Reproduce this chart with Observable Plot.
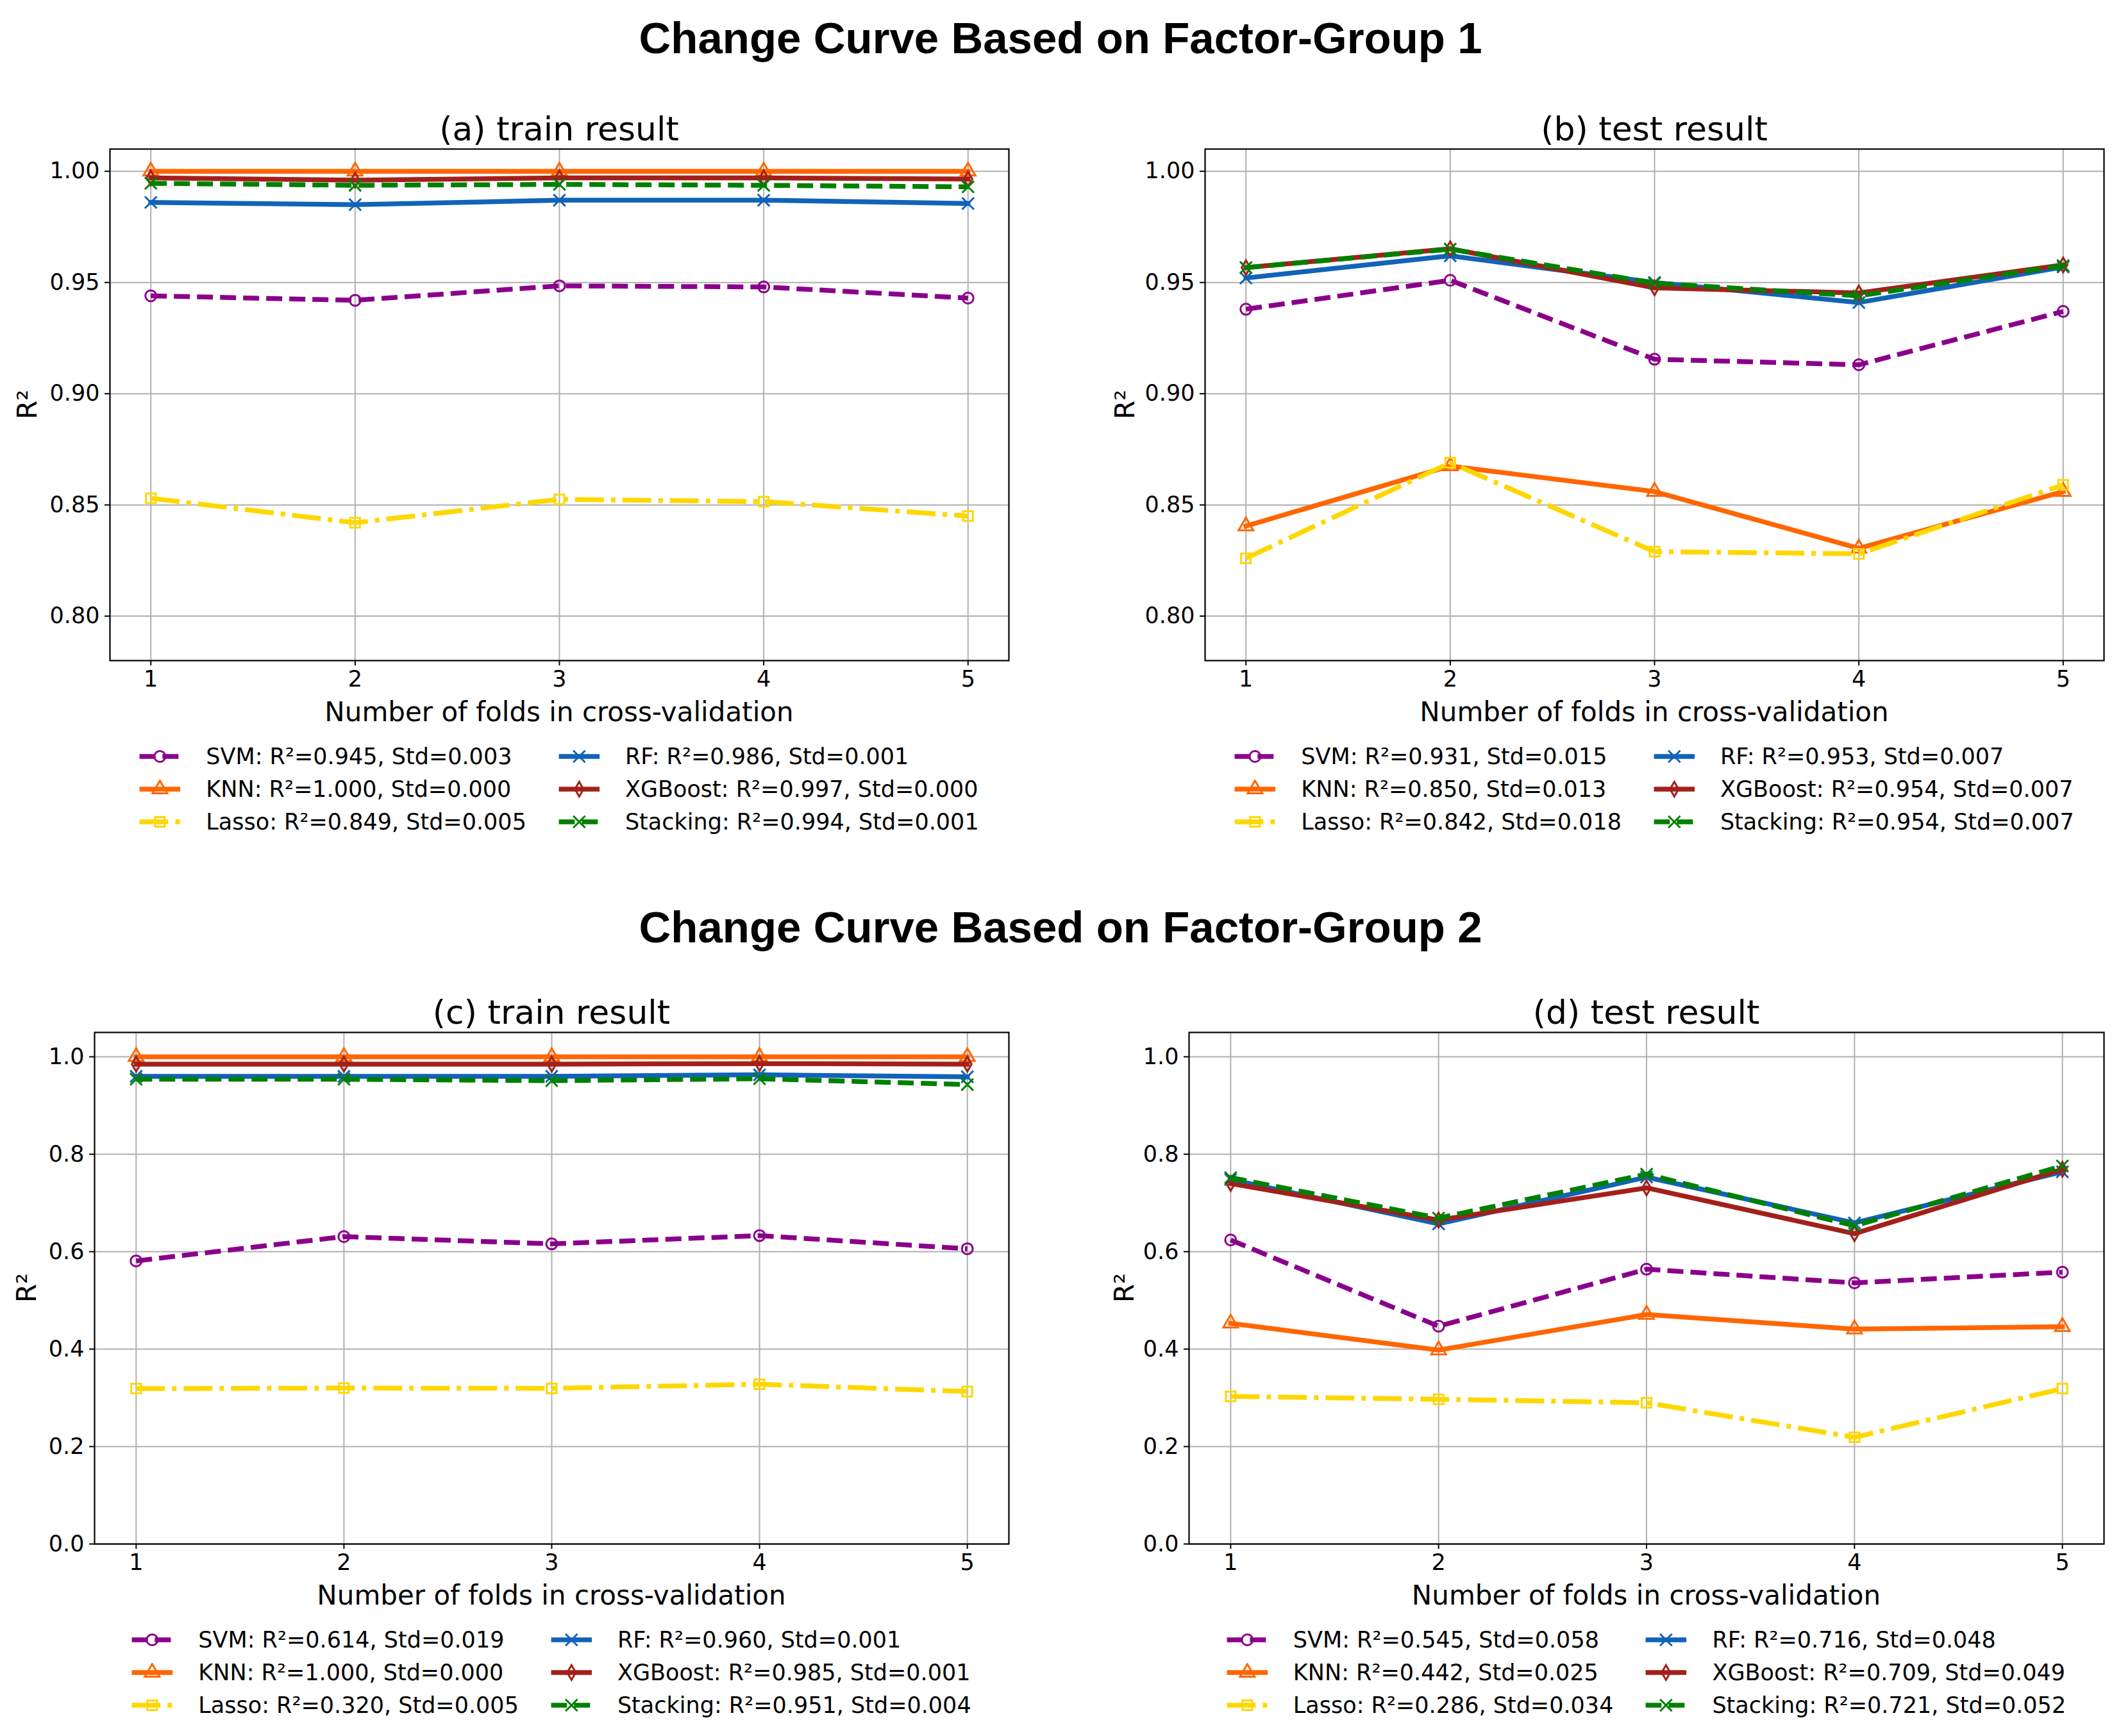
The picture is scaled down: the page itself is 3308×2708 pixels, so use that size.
<!DOCTYPE html>
<html>
<head>
<meta charset="utf-8">
<script src="https://cdn.jsdelivr.net/npm/d3@7"></script>
<script src="https://cdn.jsdelivr.net/npm/@observablehq/plot@0.6"></script>
<style>
  html, body { margin: 0; padding: 0; background: #fff; }
  #root { position: relative; width: 3308px; height: 2708px; background: #fff; font-family: "DejaVu Sans", sans-serif; color: #000; overflow: hidden; }
  .abs { position: absolute; white-space: nowrap; line-height: 1; }
  .center { transform: translate(-50%, -50%); }
  .main-title { font-family: "Liberation Sans", Arial, sans-serif; font-weight: bold; font-size: 69px; }
  .panel-title { font-size: 52px; }
  .axis-label { font-size: 42px; }
  .legend { position: absolute; display: grid; grid-template-columns: max-content max-content; column-gap: 50px; transform: translateX(-50%); font-size: 35px; width: max-content; white-space: nowrap; }
  .legend .item { display: flex; align-items: center; height: 51px; white-space: nowrap; }
  .legend svg { display: block; margin-right: 40px; flex: none; }
</style>
</head>
<body>
<div id="root"></div>
<script>
// ---------- data ----------
const folds = [1, 2, 3, 4, 5];
const models = ["SVM", "KNN", "Lasso", "RF", "XGBoost", "Stacking"];

// Factor-Group 1, train
const g1Train = {
  SVM:      [0.944, 0.942, 0.9485, 0.948, 0.943],
  KNN:      [1.000, 1.000, 1.000, 1.000, 1.000],
  Lasso:    [0.853, 0.842, 0.8525, 0.8515, 0.845],
  RF:       [0.986, 0.985, 0.987, 0.987, 0.9855],
  XGBoost:  [0.997, 0.996, 0.997, 0.997, 0.9965],
  Stacking: [0.9946, 0.9937, 0.9941, 0.9937, 0.993]
};
const g1TrainMean = [0.945, 1.000, 0.849, 0.986, 0.997, 0.994];
const g1TrainStd  = [0.003, 0.000, 0.005, 0.001, 0.000, 0.001];

// Factor-Group 1, test
const g1Test = {
  SVM:      [0.938, 0.951, 0.9155, 0.913, 0.937],
  KNN:      [0.8405, 0.8675, 0.856, 0.8305, 0.856],
  Lasso:    [0.826, 0.869, 0.829, 0.828, 0.859],
  RF:       [0.952, 0.962, 0.950, 0.941, 0.957],
  XGBoost:  [0.9567, 0.9652, 0.9476, 0.9453, 0.9579],
  Stacking: [0.9567, 0.965, 0.9497, 0.944, 0.9576]
};
const g1TestMean = [0.931, 0.850, 0.842, 0.953, 0.954, 0.954];
const g1TestStd  = [0.015, 0.013, 0.018, 0.007, 0.007, 0.007];

// Factor-Group 2, train
const g2Train = {
  SVM:      [0.581, 0.631, 0.616, 0.633, 0.606],
  KNN:      [1.000, 1.000, 1.000, 1.000, 1.000],
  Lasso:    [0.319, 0.320, 0.3195, 0.328, 0.313],
  RF:       [0.960, 0.960, 0.960, 0.963, 0.959],
  XGBoost:  [0.985, 0.985, 0.985, 0.986, 0.985],
  Stacking: [0.954, 0.954, 0.951, 0.955, 0.943]
};
const g2TrainMean = [0.614, 1.000, 0.320, 0.960, 0.985, 0.951];
const g2TrainStd  = [0.019, 0.000, 0.005, 0.001, 0.001, 0.004];

// Factor-Group 2, test
const g2Test = {
  SVM:      [0.624, 0.447, 0.564, 0.536, 0.558],
  KNN:      [0.453, 0.398, 0.471, 0.441, 0.446],
  Lasso:    [0.303, 0.297, 0.290, 0.219, 0.319],
  RF:       [0.748, 0.657, 0.753, 0.659, 0.764],
  XGBoost:  [0.740, 0.665, 0.731, 0.637, 0.769],
  Stacking: [0.752, 0.669, 0.759, 0.653, 0.776]
};
const g2TestMean = [0.545, 0.442, 0.286, 0.716, 0.709, 0.721];
const g2TestStd  = [0.058, 0.025, 0.034, 0.048, 0.049, 0.052];

const yTicksG1 = [0.80, 0.85, 0.90, 0.95, 1.00];
const yTicksG2 = [0.0, 0.2, 0.4, 0.6, 0.8, 1.0];

const mainTitles = ["Change Curve Based on Factor-Group 1", "Change Curve Based on Factor-Group 2"];
const xLabel = "Number of folds in cross-validation";
const yLabel = "R²";

// ---------- styles ----------
const colors  = ["#8B008B", "#FF6600", "#FFD700", "#1263B8", "#A3201A", "#008000"];
const dashes  = ["25,11", null, "45,11,7,11", null, null, "25,11"];
const symbols = ["circle", "triangle", "square", "times", "diamond", "times"];
const radii   = [8.5, 8.5, 8.5, 8.5, 7, 8.5];

// ---------- layout ----------
const panels = [
  {title: "(a) train result", data: g1Train, mean: g1TrainMean, std: g1TrainStd, frame: [171, 232, 1573, 1030], yDomain: [0.78, 1.01], yTicks: yTicksG1, fmt: ".2f", yLabelOff: 128},
  {title: "(b) test result",  data: g1Test,  mean: g1TestMean,  std: g1TestStd,  frame: [1879, 232, 3281, 1030], yDomain: [0.78, 1.01], yTicks: yTicksG1, fmt: ".2f", yLabelOff: 124},
  {title: "(c) train result", data: g2Train, mean: g2TrainMean, std: g2TrainStd, frame: [147, 1610, 1573, 2408], yDomain: [0, 1.05], yTicks: yTicksG2, fmt: ".1f", yLabelOff: 105},
  {title: "(d) test result",  data: g2Test,  mean: g2TestMean,  std: g2TestStd,  frame: [1854, 1610, 3281, 2408], yDomain: [0, 1.05], yTicks: yTicksG2, fmt: ".1f", yLabelOff: 100}
];

const root = document.getElementById("root");

function addText(txt, cls, x, y, extra) {
  const d = document.createElement("div");
  d.className = "abs center " + cls;
  d.textContent = txt;
  d.style.left = x + "px";
  d.style.top = y + "px";
  if (extra) d.style.transform = extra;
  root.appendChild(d);
  return d;
}

addText(mainTitles[0], "main-title", 1654, 59);
addText(mainTitles[1], "main-title", 1654, 1446);

const ML = 150, MR = 30, MT = 30, MB = 80;
const symMap = {circle: d3.symbolCircle, triangle: d3.symbolTriangle, square: d3.symbolSquare, times: d3.symbolTimes, diamond: d3.symbolDiamond};

panels.forEach(p => {
  const [x0, y0, x1, y1] = p.frame;
  const W = x1 - x0 + ML + MR, H = y1 - y0 + MT + MB;
  const rows = models.flatMap(m => folds.map((f, i) => ({model: m, fold: f, r2: p.data[m][i]})));
  const marks = [
    Plot.gridX(folds, {stroke: "#b0b0b0", strokeOpacity: 1, strokeWidth: 2}),
    Plot.gridY(p.yTicks, {stroke: "#b0b0b0", strokeOpacity: 1, strokeWidth: 2})
  ];
  models.forEach((m, k) => {
    const d = rows.filter(r => r.model === m);
    marks.push(Plot.line(d, {
      x: "fold", y: "r2", stroke: colors[k], strokeWidth: 7.5,
      strokeDasharray: dashes[k] || undefined,
      strokeLinejoin: "round", strokeLinecap: dashes[k] ? "butt" : "square"
    }));
    marks.push(Plot.dot(d, {
      x: "fold", y: "r2", symbol: symbols[k], r: radii[k],
      stroke: colors[k], strokeWidth: 3, fill: "none"
    }));
  });
  marks.push(Plot.frame({stroke: "black", strokeWidth: 2.2}));
  marks.push(Plot.axisX(folds, {tickSize: 8, tickPadding: 8, tickFormat: "d", label: null, strokeWidth: 2}));
  marks.push(Plot.axisY(p.yTicks, {tickSize: 8, tickPadding: 8, tickFormat: p.fmt, label: null, strokeWidth: 2}));

  const svg = Plot.plot({
    width: W, height: H,
    marginLeft: ML, marginRight: MR, marginTop: MT, marginBottom: MB,
    style: {fontFamily: "DejaVu Sans", fontSize: "35px", color: "black", background: "transparent", overflow: "visible"},
    x: {domain: [0.8, 5.2]},
    y: {domain: p.yDomain},
    marks
  });
  svg.style.position = "absolute";
  svg.style.left = (x0 - ML) + "px";
  svg.style.top = (y0 - MT) + "px";
  root.appendChild(svg);

  const cx = (x0 + x1) / 2, cy = (y0 + y1) / 2;
  addText(p.title, "panel-title", cx, y0 - 31);
  addText(xLabel, "axis-label", cx, y1 + 81);
  addText(yLabel, "axis-label", x0 - p.yLabelOff, cy, "translate(-50%, -50%) rotate(-90deg)");

  // legend
  const lg = document.createElement("div");
  lg.className = "legend";
  lg.style.left = cx + "px";
  lg.style.top = (y1 + 150 - 25.5) + "px";
  const order = [0, 3, 1, 4, 2, 5]; // two columns: SVM,KNN,Lasso | RF,XGBoost,Stacking
  order.forEach(k => {
    const item = document.createElement("div");
    item.className = "item";
    const sw = d3.create("svg").attr("width", 64).attr("height", 30);
    sw.append("line").attr("x1", 0).attr("x2", 64).attr("y1", 15).attr("y2", 15)
      .attr("stroke", colors[k]).attr("stroke-width", 7.5)
      .attr("stroke-dasharray", dashes[k]).attr("stroke-linecap", "butt");
    sw.append("path").attr("transform", "translate(32,15)")
      .attr("d", d3.symbol(symMap[symbols[k]], Math.PI * radii[k] * radii[k])())
      .attr("fill", "none").attr("stroke", colors[k]).attr("stroke-width", 3);
    item.appendChild(sw.node());
    const t = document.createElement("span");
    t.textContent = `${models[k]}: R²=${p.mean[k].toFixed(3)}, Std=${p.std[k].toFixed(3)}`;
    item.appendChild(t);
    lg.appendChild(item);
  });
  root.appendChild(lg);
});
</script>
</body>
</html>
